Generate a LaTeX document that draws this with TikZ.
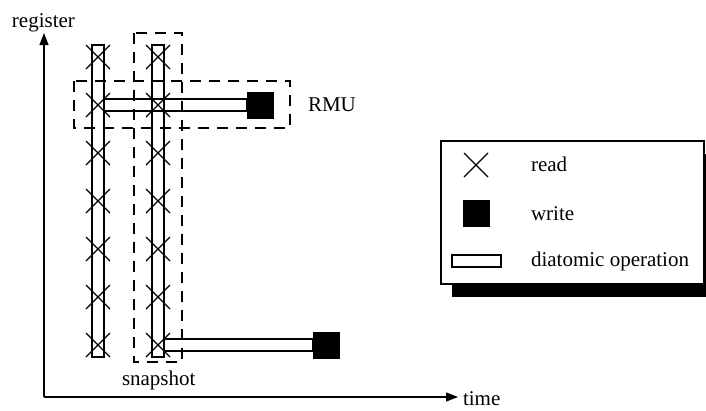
\documentclass[tikz,border=0pt]{standalone}
\usepackage{fontspec}
\setmainfont{Liberation Serif}
\usetikzlibrary{arrows.meta}
\begin{document}
\begin{tikzpicture}[x=1pt,y=-1pt,
  every node/.style={inner sep=0pt,outer sep=0pt,font=\fontsize{21}{25}\selectfont},
  axis/.style={line width=1.2pt,-{Triangle[length=12pt,width=9pt]}},
  bar/.style={draw,line width=1.2pt},
  readmark/.style={line width=1.1pt},
  writebox/.style={fill=black,draw=black,minimum width=26pt,minimum height=26pt},
  group/.style={draw,line width=1.2pt,dash pattern=on 11pt off 8pt},
  label/.style={anchor=base west}]
\useasboundingbox (0,0) rectangle (706,410);

% axes
\coordinate (origin) at (44,397);
\coordinate (ytop) at (44,33);
\coordinate (xend) at (458,397);
\draw[axis] (origin) -- (ytop);
\draw[axis] (origin) -- (xend);
\node[label] (reg) at (12,27) {register};
\node[label] (time) at (463,405) {time};

% two registers read repeatedly
\draw[bar] (92,45) rectangle (104,357);
\draw[bar] (152,45) rectangle (164,357);
\foreach \yy in {57,105,153,201,249,297,345}{
  \foreach \xx in {98,158}{
    \draw[readmark] (\xx-12,\yy-12) -- (\xx+12,\yy+12)
                    (\xx-12,\yy+12) -- (\xx+12,\yy-12);
  }
}

% writes and their diatomic operations
\node[writebox] (w1) at (260,105) {};
\node[writebox] (w2) at (326,345) {};
\draw[bar] (104,99) rectangle (w1.west |- 0,111);
\draw[bar] (164,339) rectangle (w2.west |- 0,351);

% grouping boxes
\draw[group] (74,81) rectangle (290,128);
\draw[group] (134,33) rectangle (182,362);
\node[label] (rmu) at (308,111) {RMU};
\node[label] (snap) at (122,385) {snapshot};

% legend with drop shadow
\fill[black] (452,154) rectangle (716,297);
\draw[line width=1.2pt,fill=white] (441,141) rectangle (704,284);
\draw[readmark] (464,153) -- (488,177) (464,177) -- (488,153);
\node[writebox] (lw) at (476,213) {};
\draw[bar] (452,255) rectangle (501,267);
\node[label] (lread) at (531,171) {read};
\node[label] (lwrite) at (531,220) {write};
\node[label] (ldia) at (531,266) {diatomic operation};
\end{tikzpicture}
\end{document}
